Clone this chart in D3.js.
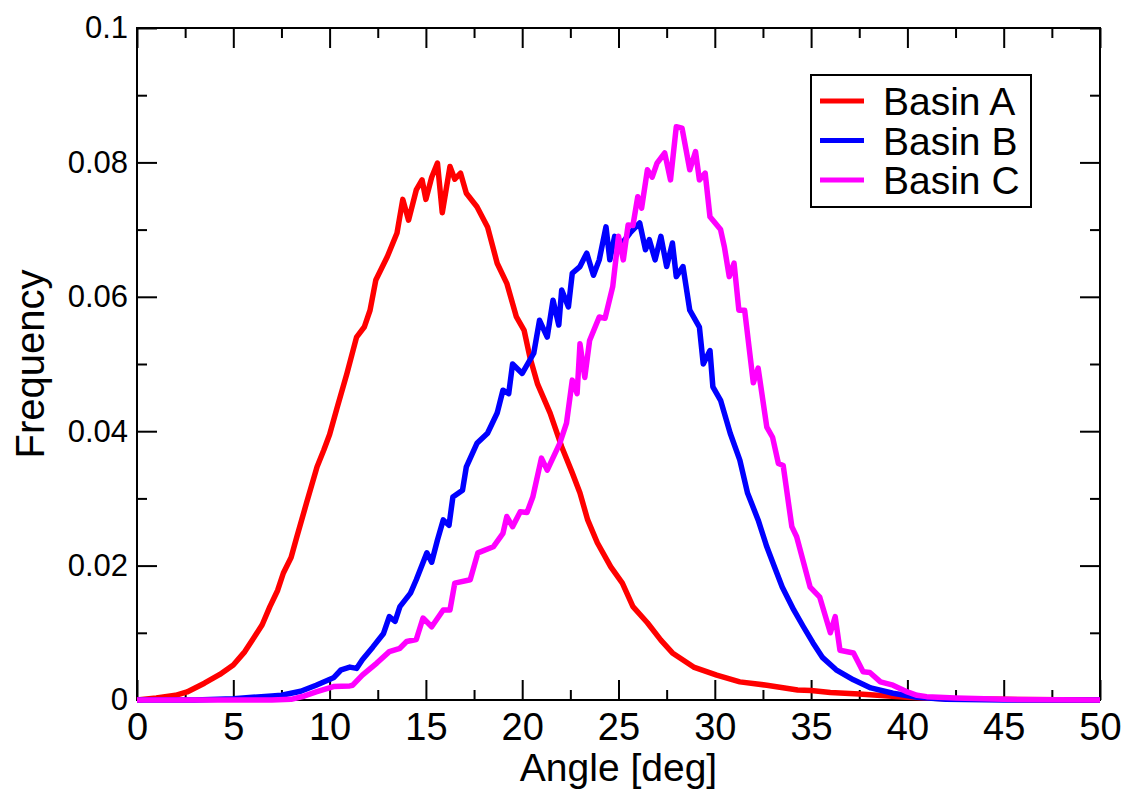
<!DOCTYPE html>
<head>
  <meta charset="utf-8">
  <script src="https://cdn.jsdelivr.net/npm/d3@7"></script>
  <style>
    body { margin: 0; background: #fff; }
    svg { font-family: "Liberation Sans", Arial, sans-serif; }
    .tick line { stroke: #000; stroke-width: 2; }
    .domain { display: none; }
    .series { fill: none; stroke-width: 5.5; stroke-linejoin: round; }
  </style>
</head>
<body>
<div id="chart"></div>
<script>

// Basin A
var angleA = [0, 1, 2, 2.6, 3.5, 4.3, 5.0, 5.6, 6.1, 6.5, 6.9, 7.3, 7.6, 8.0, 8.3, 8.8, 9.35, 9.7, 10.0, 10.4,
  10.9, 11.4, 11.8, 12.1, 12.4, 13.0, 13.5, 13.8, 14.1, 14.5, 14.8, 15.0, 15.3, 15.6, 15.85, 16.25, 16.5, 16.8,
  17.1, 17.65, 18.2, 18.7, 19.2, 19.7, 20.1, 20.4, 20.8, 21.45, 22.05, 22.6, 23.0, 23.4, 23.9, 24.6, 25.2,
  25.75, 26.5, 27.2, 27.8, 28.9, 30.1, 31.3, 32.7, 34.3, 35.0, 36.0, 37.5, 39.0, 40.0, 42.0, 45.0, 50.0];
var freqA = [0, 0.0003, 0.0007, 0.0012, 0.0025, 0.0038, 0.0052, 0.0072, 0.0094, 0.0112, 0.0139, 0.0163, 0.0189,
  0.0212, 0.0243, 0.0293, 0.0347, 0.0372, 0.0395, 0.0436, 0.0486, 0.054, 0.0555, 0.058, 0.0625, 0.066, 0.0695,
  0.0745, 0.0714, 0.0759, 0.0774, 0.0745, 0.0778, 0.0799, 0.0725, 0.0794, 0.0775, 0.0784, 0.0754, 0.0734, 0.0704,
  0.065, 0.062, 0.057, 0.055, 0.051, 0.047, 0.0427, 0.0377, 0.0338, 0.0308, 0.0268, 0.0234, 0.0198, 0.0174,
  0.0139, 0.0115, 0.0089, 0.007, 0.0049, 0.0037, 0.0027, 0.0022, 0.0015, 0.0014, 0.0011, 0.0009, 0.0006,
  0.0004, 0.0002, 0.0001, 0];

// Basin B
var angleB = [0, 3, 5, 6, 7, 7.5, 8.5, 9.3, 10.2, 10.6, 11.05, 11.4, 11.7, 12.25, 12.8, 13.1, 13.4, 13.65, 14.2,
  14.5, 15.05, 15.3, 15.6, 15.9, 16.2, 16.4, 16.9, 17.1, 17.65, 18.2, 18.7, 19.0, 19.3, 19.5, 20.0, 20.6, 20.9,
  21.3, 21.6, 21.9, 22.05, 22.4, 22.6, 23.0, 23.35, 23.7, 24.0, 24.35, 24.55, 24.8, 25.2, 25.6, 26.1, 26.4,
  26.6, 26.9, 27.2, 27.5, 27.8, 28.0, 28.35, 28.7, 29.2, 29.4, 29.75, 29.9, 30.3, 30.8, 31.3, 31.7, 32.25,
  32.7, 33.1, 33.5, 34.1, 34.6, 35.1, 35.6, 36.3, 37.2, 38.1, 39.25, 40.5, 42, 45, 50];
var freqB = [0, 0, 0.0002, 0.0004, 0.0006, 0.0007, 0.0013, 0.0022, 0.0033, 0.0045, 0.0049, 0.0047, 0.006,
  0.0079, 0.0099, 0.0124, 0.0117, 0.0139, 0.0159, 0.0179, 0.0219, 0.0205, 0.0238, 0.0268, 0.026, 0.0302,
  0.0312, 0.0347, 0.0382, 0.0397, 0.0427, 0.0461, 0.0456, 0.050, 0.0486, 0.0516, 0.0565, 0.054, 0.0595,
  0.0558, 0.061, 0.0585, 0.0635, 0.0645, 0.0665, 0.0632, 0.0655, 0.0704, 0.0655, 0.069, 0.068, 0.0695,
  0.071, 0.067, 0.0685, 0.0655, 0.069, 0.0645, 0.068, 0.063, 0.0645, 0.058, 0.0555, 0.050, 0.052, 0.0466,
  0.0446, 0.0397, 0.0357, 0.0308, 0.0268, 0.0228, 0.0198, 0.0168, 0.0134, 0.0109, 0.0085, 0.0063, 0.0045,
  0.003, 0.0018, 0.001, 0.0004, 0.0001, 0, 0];

// Basin C
var angleC = [0, 5, 7, 8, 8.7, 9.3, 10.2, 11.05, 11.2, 11.7, 12.45, 13.1, 13.65, 14.0, 14.5, 14.85, 15.3, 15.9,
  16.25, 16.5, 17.3, 17.7, 18.5, 19.0, 19.2, 19.5, 19.9, 20.25, 20.55, 21.0, 21.3, 21.95, 22.3, 22.6, 22.85,
  23.0, 23.25, 23.5, 24.0, 24.3, 24.7, 25.0, 25.25, 25.5, 25.75, 26.0, 26.2, 26.5, 26.75, 27.0, 27.4, 27.7,
  28.0, 28.3, 28.7, 29.0, 29.2, 29.5, 29.75, 30.3, 30.5, 30.75, 31.0, 31.25, 31.55, 32.0, 32.25, 32.7, 33.0,
  33.3, 33.55, 34.0, 34.25, 34.95, 35.45, 36.0, 36.25, 36.5, 37.2, 37.7, 38.05, 38.6, 39.25, 40.0, 40.5,
  41.0, 42.5, 45, 50];
var freqC = [0, 0, 0, 0.0001, 0.0006, 0.0012, 0.002, 0.0021, 0.0022, 0.0037, 0.0055, 0.0072, 0.0077, 0.0087,
  0.009, 0.0122, 0.0109, 0.0134, 0.0134, 0.0174, 0.0179, 0.0219, 0.0228, 0.0248, 0.0273, 0.0258, 0.028,
  0.0279, 0.0302, 0.036, 0.0342, 0.0382, 0.0412, 0.0476, 0.0456, 0.053, 0.048, 0.0535, 0.057, 0.0568, 0.0615,
  0.069, 0.0655, 0.0707, 0.0706, 0.0749, 0.0732, 0.0789, 0.0778, 0.0799, 0.0814, 0.0774, 0.0853, 0.0851,
  0.0789, 0.0816, 0.0774, 0.0784, 0.0719, 0.070, 0.0674, 0.063, 0.065, 0.058, 0.058, 0.0472, 0.0494, 0.0406,
  0.0391, 0.0352, 0.0349, 0.0258, 0.0243, 0.0168, 0.0153, 0.010, 0.0124, 0.0074, 0.007, 0.0042, 0.0041,
  0.0027, 0.0022, 0.0012, 0.0007, 0.0005, 0.0003, 0.0001, 0];

var seriesNames = ["Basin A", "Basin B", "Basin C"];
var seriesColors = ["#ff0000", "#0000ff", "#ff00ff"];

var xMajor = [0, 5, 10, 15, 20, 25, 30, 35, 40, 45, 50];
var xMinor = [2.5, 7.5, 12.5, 17.5, 22.5, 27.5, 32.5, 37.5, 42.5, 47.5];
var yMajor = [0, 0.02, 0.04, 0.06, 0.08, 0.1];
var yMinor = [0.01, 0.03, 0.05, 0.07, 0.09];
var yTickLabels = ["0", "0.02", "0.04", "0.06", "0.08", "0.1"];

var width = 1130, height = 792;
var plot = {left: 137, right: 1100, top: 28, bottom: 700};

var svg = d3.select("#chart").append("svg")
    .attr("width", width)
    .attr("height", height);

var x = d3.scaleLinear().domain([0, 50]).range([plot.left, plot.right]);
var y = d3.scaleLinear().domain([0, 0.1]).range([plot.bottom, plot.top]);

// axes: major ticks inward 20px, minor 10px, on all four sides
svg.append("g")
    .attr("transform", "translate(0," + plot.bottom + ")")
    .call(d3.axisBottom(x).tickValues(xMajor).tickSize(-20).tickSizeOuter(0).tickPadding(13))
    .call(function(g) { g.selectAll("text").style("font-size", "38px").attr("fill", "#000"); });
svg.append("g")
    .attr("transform", "translate(0," + plot.bottom + ")")
    .call(d3.axisBottom(x).tickValues(xMinor).tickSize(-10).tickSizeOuter(0).tickFormat(""));
svg.append("g")
    .attr("transform", "translate(0," + plot.top + ")")
    .call(d3.axisTop(x).tickValues(xMajor).tickSize(-20).tickSizeOuter(0).tickFormat(""));
svg.append("g")
    .attr("transform", "translate(0," + plot.top + ")")
    .call(d3.axisTop(x).tickValues(xMinor).tickSize(-10).tickSizeOuter(0).tickFormat(""));

svg.append("g")
    .attr("transform", "translate(" + plot.left + ",0)")
    .call(d3.axisLeft(y).tickValues(yMajor).tickSize(-20).tickSizeOuter(0).tickPadding(9)
      .tickFormat(function(d, i) { return yTickLabels[i]; }))
    .call(function(g) { g.selectAll("text").style("font-size", "31px").attr("fill", "#000"); });
svg.append("g")
    .attr("transform", "translate(" + plot.left + ",0)")
    .call(d3.axisLeft(y).tickValues(yMinor).tickSize(-10).tickSizeOuter(0).tickFormat(""));
svg.append("g")
    .attr("transform", "translate(" + plot.right + ",0)")
    .call(d3.axisRight(y).tickValues(yMajor).tickSize(-20).tickSizeOuter(0).tickFormat(""));
svg.append("g")
    .attr("transform", "translate(" + plot.right + ",0)")
    .call(d3.axisRight(y).tickValues(yMinor).tickSize(-10).tickSizeOuter(0).tickFormat(""));

svg.append("rect")
    .attr("x", plot.left)
    .attr("y", plot.top)
    .attr("width", plot.right - plot.left)
    .attr("height", plot.bottom - plot.top)
    .attr("fill", "none")
    .attr("stroke", "#000")
    .attr("stroke-width", 2);

// curves
var line = d3.line()
    .x(function(d) { return x(d[0]); })
    .y(function(d) { return y(d[1]); });

var series = [
  d3.zip(angleA, freqA),
  d3.zip(angleB, freqB),
  d3.zip(angleC, freqC)
];

svg.selectAll(".series")
    .data(series)
  .enter().append("path")
    .attr("class", "series")
    .attr("stroke", function(d, i) { return seriesColors[i]; })
    .attr("d", line);

// axis titles
svg.append("text")
    .attr("x", (plot.left + plot.right) / 2)
    .attr("y", 781)
    .attr("text-anchor", "middle")
    .style("font-size", "39px")
    .text("Angle [deg]");

svg.append("text")
    .attr("transform", "translate(44," + (plot.top + plot.bottom) / 2 + ") rotate(-90)")
    .attr("text-anchor", "middle")
    .style("font-size", "40px")
    .text("Frequency");

// legend
var legend = svg.append("g");
legend.append("rect")
    .attr("x", 811)
    .attr("y", 75)
    .attr("width", 220)
    .attr("height", 132)
    .attr("fill", "#fff")
    .attr("stroke", "#000")
    .attr("stroke-width", 2);

var rows = legend.selectAll(".row")
    .data(seriesNames)
  .enter().append("g")
    .attr("class", "row")
    .attr("transform", function(d, i) { return "translate(0," + (101 + i * 39.5) + ")"; });
rows.append("line")
    .attr("x1", 820).attr("x2", 864)
    .attr("stroke", function(d, i) { return seriesColors[i]; })
    .attr("stroke-width", 5);
rows.append("text")
    .attr("x", 883)
    .attr("y", 14)
    .style("font-size", "39px")
    .text(function(d) { return d; });

</script>
</body>
